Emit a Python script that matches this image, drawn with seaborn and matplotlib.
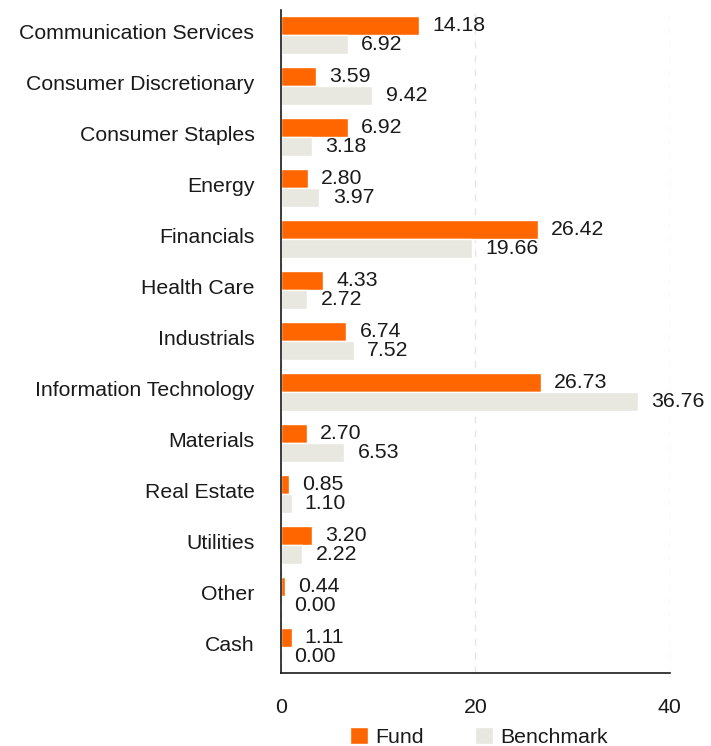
import matplotlib
matplotlib.use("Agg")
import matplotlib.pyplot as plt
import matplotlib.transforms as mtransforms
import seaborn as sns
import pandas as pd
from matplotlib.patches import Patch

sectors = [
    "Communication Services", "Consumer Discretionary", "Consumer Staples",
    "Energy", "Financials", "Health Care", "Industrials",
    "Information Technology", "Materials", "Real Estate", "Utilities",
    "Other", "Cash",
]
fund = [14.18, 3.59, 6.92, 2.80, 26.42, 4.33, 6.74, 26.73, 2.70, 0.85, 3.20, 0.44, 1.11]
benchmark = [6.92, 9.42, 3.18, 3.97, 19.66, 2.72, 7.52, 36.76, 6.53, 1.10, 2.22, 0.00, 0.00]
series = ["Fund", "Benchmark"]
x_ticks = [0, 20, 40]

colors = {"Fund": "#FF6600", "Benchmark": "#E8E8E1"}
text_color = "#1a1a1a"
fs = 15.3

df = pd.DataFrame({
    "Sector": sectors * 2,
    "Weight": fund + benchmark,
    "Series": ["Fund"] * len(sectors) + ["Benchmark"] * len(sectors),
})

sns.set_theme(style="white")
plt.rcParams["font.family"] = ["Liberation Sans", "DejaVu Sans"]

fig = plt.figure(figsize=(7.11, 7.46), dpi=100)
ax = fig.add_axes([0.395, 0.0985, 0.547, 0.8885])

sns.barplot(data=df, y="Sector", x="Weight", hue="Series", hue_order=series,
            order=sectors, palette=colors, orient="h", width=0.75, gap=0,
            saturation=1, ax=ax, legend=False)

for cont in ax.containers:
    ax.bar_label(cont, fmt="%.2f", padding=9.5, fontsize=fs, color=text_color)

ax.set_xlim(0, 40)
ax.set_xticks(x_ticks)
ax.set_xlabel("")
ax.set_ylabel("")
ax.xaxis.grid(True, linestyle=(0, (5, 5)), color="#e6e6e6", linewidth=1)
ax.set_axisbelow(True)
ax.tick_params(axis="y", length=0, pad=19, labelsize=fs, labelcolor=text_color)
ax.tick_params(axis="x", length=0, pad=18, labelsize=fs, labelcolor=text_color)
for side in ["top", "right"]:
    ax.spines[side].set_visible(False)
for side in ["left", "bottom"]:
    ax.spines[side].set_color(text_color)
    ax.spines[side].set_linewidth(1.2)

# sector names sit slightly above the centre of each bar pair
lift = mtransforms.ScaledTranslation(0, 4 / 100, fig.dpi_scale_trans)
for lbl in ax.get_yticklabels():
    lbl.set_transform(lbl.get_transform() + lift)

handles = [Patch(facecolor=colors[s], label=s) for s in series]
fig.legend(handles=handles, loc="center", bbox_to_anchor=(0.674, 0.012),
           ncol=2, frameon=False, fontsize=fs, handlelength=0.85,
           handleheight=0.85, handletextpad=0.35, columnspacing=2.4,
           labelcolor=text_color)

fig.savefig("out.png", dpi=100)
